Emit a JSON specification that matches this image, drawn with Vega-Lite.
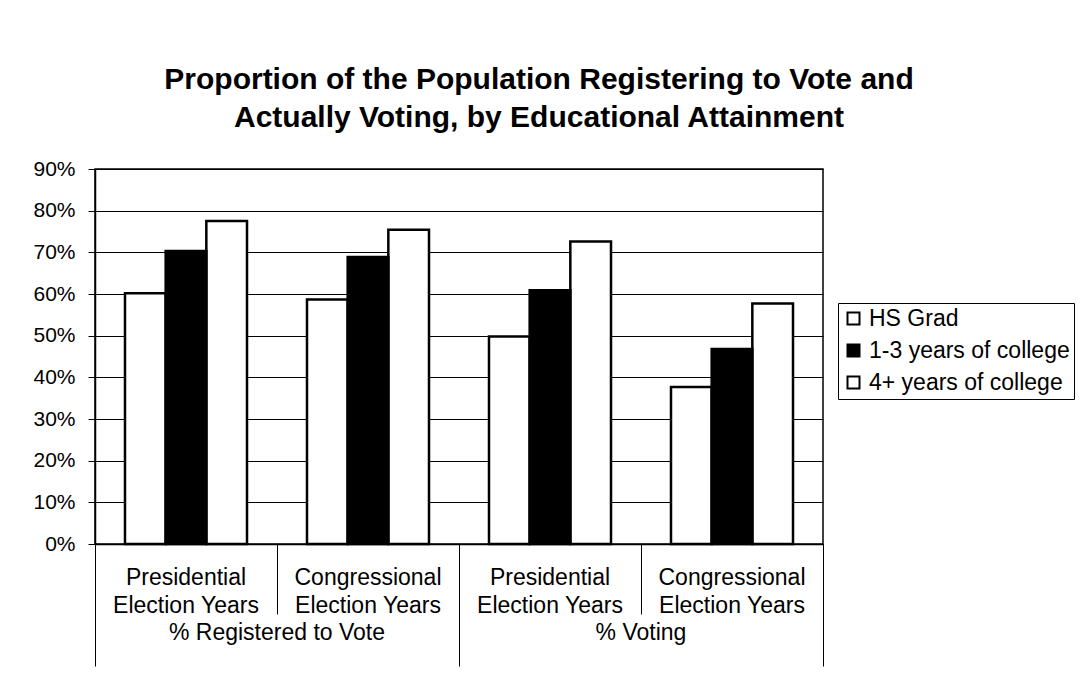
{
  "$schema": "https://vega.github.io/schema/vega-lite/v6.json",
  "width": 728,
  "height": 375,
  "autosize": "none",
  "padding": {"left": 95, "top": 169, "right": 261, "bottom": 147},
  "background": "white",
  "title": {
    "text": ["Proportion of the Population Registering to Vote and", "Actually Voting, by Educational Attainment"],
    "font": "Liberation Sans",
    "fontSize": 30,
    "fontWeight": "bold",
    "color": "black",
    "anchor": "middle",
    "frame": "group",
    "dx": 80,
    "offset": 25,
    "lineHeight": 38
  },
  "data": {
    "values": [
      {"column": "Registered / Presidential", "edu": "HS Grad", "pct": 60.2},
      {"column": "Registered / Presidential", "edu": "1-3 years of college", "pct": 70.3},
      {"column": "Registered / Presidential", "edu": "4+ years of college", "pct": 77.5},
      {"column": "Registered / Congressional", "edu": "HS Grad", "pct": 58.7},
      {"column": "Registered / Congressional", "edu": "1-3 years of college", "pct": 68.9},
      {"column": "Registered / Congressional", "edu": "4+ years of college", "pct": 75.4},
      {"column": "Voting / Presidential", "edu": "HS Grad", "pct": 49.8},
      {"column": "Voting / Presidential", "edu": "1-3 years of college", "pct": 60.9},
      {"column": "Voting / Presidential", "edu": "4+ years of college", "pct": 72.6},
      {"column": "Voting / Congressional", "edu": "HS Grad", "pct": 37.7},
      {"column": "Voting / Congressional", "edu": "1-3 years of college", "pct": 46.8},
      {"column": "Voting / Congressional", "edu": "4+ years of college", "pct": 57.7}
    ]
  },
  "encoding": {
    "xOffset": {
      "field": "edu",
      "type": "nominal",
      "scale": {"domain": ["HS Grad", "1-3 years of college", "4+ years of college"], "paddingInner": 0, "paddingOuter": 0.7375}
    },
    "y": {
      "field": "pct",
      "type": "quantitative",
      "scale": {"domain": [0, 90], "nice": false},
      "axis": {
        "title": null,
        "values": [0, 10, 20, 30, 40, 50, 60, 70, 80, 90],
        "labelExpr": "datum.value + '%'",
        "labelFont": "Liberation Sans",
        "labelFontSize": 21,
        "labelColor": "black",
        "labelPadding": 13,
        "tickColor": "black",
        "tickSize": 7,
        "domainColor": "black",
        "domainWidth": 1.5,
        "gridColor": "black",
        "gridWidth": 1,
        "gridOpacity": 1
      }
    },
    "fill": {
      "field": "edu",
      "type": "nominal",
      "scale": {"domain": ["HS Grad", "1-3 years of college", "4+ years of college"], "range": ["white", "black", "white"]},
      "legend": {
        "orient": "none",
        "legendX": 743,
        "legendY": 134,
        "title": null,
        "strokeColor": "black",
        "padding": 4,
        "symbolType": "square",
        "symbolSize": 144,
        "symbolStrokeColor": "black",
        "symbolStrokeWidth": 2,
        "labelFont": "Liberation Sans",
        "labelFontSize": 23,
        "labelColor": "black",
        "labelLimit": 400,
        "labelOffset": 4,
        "rowPadding": 8
      }
    }
  },
  "layer": [
    {
      "transform": [{"filter": "datum.edu !== '1-3 years of college'"}],
      "mark": {"type": "bar", "stroke": "black", "strokeWidth": 2.5},
      "encoding": {
        "x": {
          "field": "column",
          "type": "nominal",
          "scale": {
            "domain": ["Registered / Presidential", "Registered / Congressional", "Voting / Presidential", "Voting / Congressional"],
            "paddingInner": 0,
            "paddingOuter": 0
          },
          "axis": {
            "orient": "bottom",
            "title": null,
            "bandPosition": 0,
            "labelAngle": 0,
            "labelAlign": "center",
            "labelBaseline": "top",
            "labelExpr": "indexof(datum.value, 'Presidential') >= 0 ? ['Presidential', 'Election Years'] : ['Congressional', 'Election Years']",
            "labelFont": "Liberation Sans",
            "labelFontSize": 23,
            "labelLineHeight": 28,
            "labelColor": "black",
            "labelPadding": {"condition": {"test": "datum.value === 'Registered / Presidential'", "value": -100}, "value": 22},
            "tickColor": "black",
            "tickWidth": 1,
            "tickSize": {"condition": {"test": "datum.value === 'Registered / Presidential'", "value": 122}, "value": 0},
            "domainColor": "black",
            "domainWidth": 1.5
          }
        }
      }
    },
    {
      "transform": [{"filter": "datum.edu === '1-3 years of college'"}],
      "mark": {"type": "bar", "stroke": "black", "strokeWidth": 2.5},
      "encoding": {
        "x": {
          "field": "column",
          "type": "nominal",
          "axis": {
            "orient": "bottom",
            "title": null,
            "bandPosition": 1,
            "labelAngle": 0,
            "labelAlign": "center",
            "labelBaseline": "top",
            "labelOffset": 91,
            "labelExpr": "datum.value === 'Registered / Presidential' ? '% Registered to Vote' : datum.value === 'Voting / Presidential' ? '% Voting' : ''",
            "labelFont": "Liberation Sans",
            "labelFontSize": 23,
            "labelColor": "black",
            "labelLimit": 400,
            "labelPadding": 7,
            "tickColor": "black",
            "tickWidth": 1,
            "tickSize": {"condition": {"test": "indexof(datum.value, 'Congressional') >= 0", "value": 122}, "value": 70},
            "domain": false
          }
        }
      }
    }
  ],
  "resolve": {"axis": {"x": "independent"}},
  "config": {
    "font": "Liberation Sans",
    "view": {"stroke": "black", "strokeWidth": 1.5}
  }
}
